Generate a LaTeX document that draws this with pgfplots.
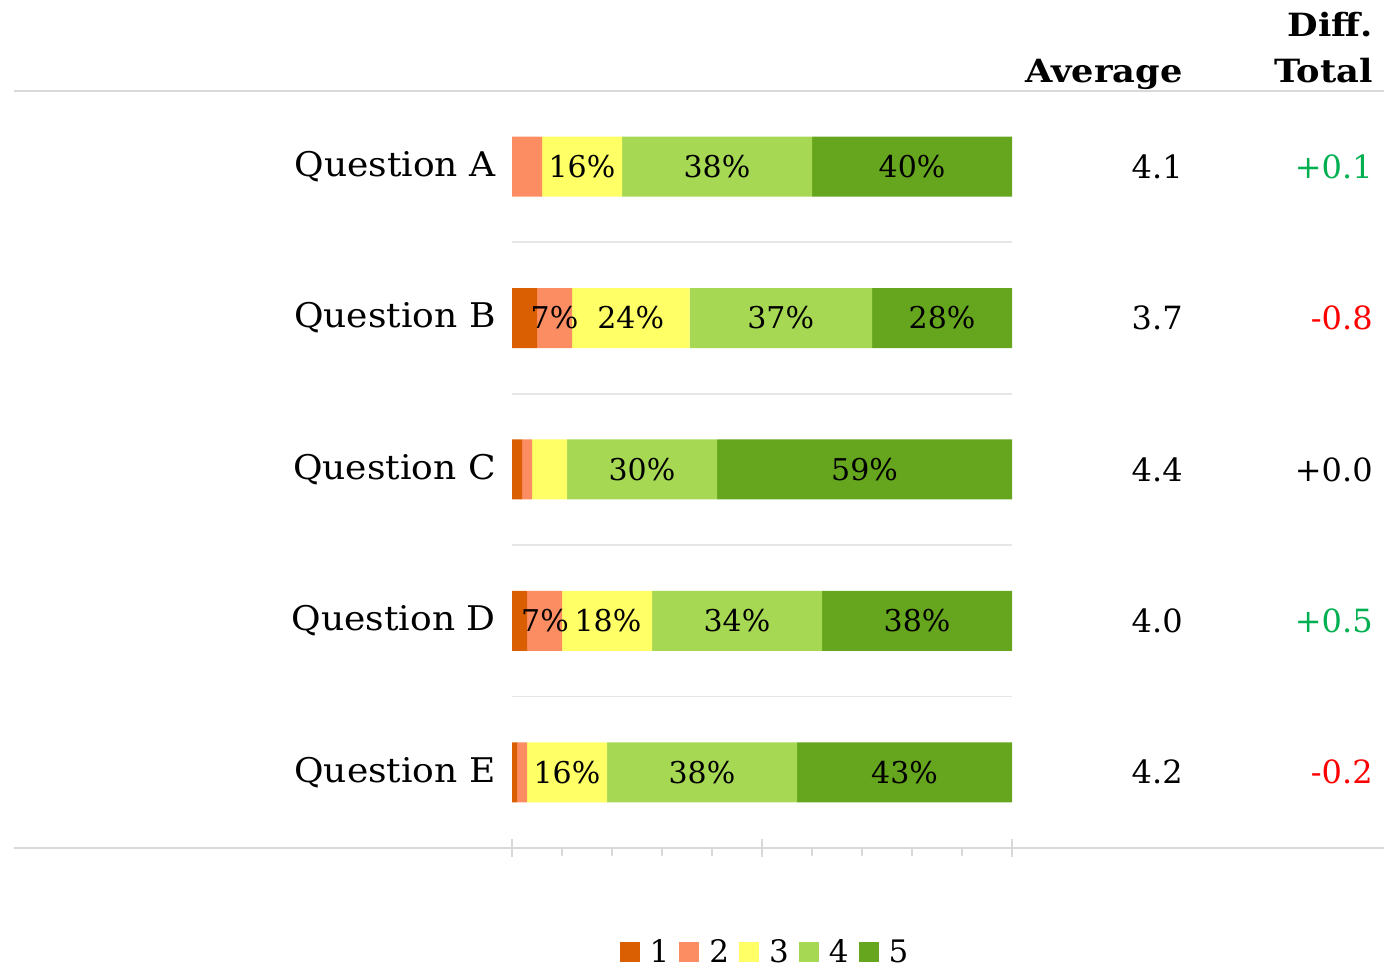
\documentclass[border=0pt]{standalone}
\usepackage{pgfplots}
\pgfplotsset{compat=1.18}
\usepackage{fontspec}
\setmainfont{DejaVu Serif}
\newfontfamily\qfont[FakeStretch=1.06]{DejaVu Serif}
\newfontfamily\hfont[FakeStretch=1.1]{DejaVu Serif}
\definecolor{c1}{HTML}{D95F02}
\definecolor{c2}{HTML}{FC8D62}
\definecolor{c3}{HTML}{FFFF66}
\definecolor{c4}{HTML}{A6D854}
\definecolor{c5}{HTML}{66A61E}
\definecolor{gridgray}{HTML}{D9D9D9}
\definecolor{gridlight}{HTML}{E6E6E6}
\definecolor{dgreen}{HTML}{00B050}
\definecolor{dred}{HTML}{FF0000}
\newcommand{\lbl}{\fontsize{16}{19}\selectfont}
\begin{document}
\begin{tikzpicture}
\begin{axis}[
  scale only axis, width=250pt, height=378.5pt,
  xmin=0, xmax=100, ymin=-0.5, ymax=4.5,
  xbar stacked, bar width=30pt,
  axis line style={draw=none},
  xtick={0,10,...,100}, xticklabels={}, xtick pos=bottom,
  tick align=outside, major tick length=4pt,
  xtick style={draw=gridgray, line width=0.9pt},
  extra x ticks={0,50,100}, extra x tick labels={},
  extra x tick style={tick align=center, major tick length=9pt},
  ytick=\empty,
  clip=false,
  legend columns=-1,
  legend style={at={(axis cs:50.8,-1.19)}, anchor=center, draw=none, fill=none,
    font=\fontsize{15.5}{18}\selectfont,
    /tikz/every odd column/.append style={column sep=3pt},
    /tikz/every even column/.append style={column sep=3pt}},
  legend image code/.code={\fill[#1] (0pt,-5pt) rectangle (10pt,5pt);},
]
\addplot[fill=c1, draw=none] coordinates {(0,4) (5,3) (2,2) (3,1) (1,0)};
\addplot[fill=c2, draw=none] coordinates {(6,4) (7,3) (2,2) (7,1) (2,0)};
\addplot[fill=c3, draw=none] coordinates {(16,4) (23.5,3) (7,2) (18,1) (16,0)};
\addplot[fill=c4, draw=none] coordinates {(38,4) (36.5,3) (30,2) (34,1) (38,0)};
\addplot[fill=c5, draw=none] coordinates {(40,4) (28,3) (59,2) (38,1) (43,0)};
\legend{1,2,3,4,5}
\coordinate (bl) at (axis cs:-102.4,-1.299);
\coordinate (tr) at (axis cs:174.4,5.101);
\end{axis}
\begin{axis}[
  scale only axis, width=250pt, height=378.5pt,
  xmin=0, xmax=100, ymin=-0.5, ymax=4.5,
  hide axis, clip=false,
  point meta=explicit symbolic,
]
% frame lines
\addplot[gridgray, line width=1pt] coordinates {(-99.6,4.5) (174.4,4.5)};
\addplot[gridgray, line width=1pt] coordinates {(-99.6,-0.5) (174.4,-0.5)};
\addplot[gridlight, line width=0.9pt] coordinates {(0,3.5) (100,3.5)};
\addplot[gridlight, line width=0.9pt] coordinates {(0,2.5) (100,2.5)};
\addplot[gridlight, line width=0.9pt] coordinates {(0,1.5) (100,1.5)};
\addplot[gridlight, line width=0.9pt] coordinates {(0,0.5) (100,0.5)};
% percent labels
\addplot[draw=none, mark=none, nodes near coords,
  every node near coord/.append style={anchor=center, inner sep=0pt, font=\fontsize{15}{18}\selectfont}]
  coordinates {(14,4)[16\%] (41,4)[38\%] (80,4)[40\%]
    (8.5,3)[7\%] (23.75,3)[24\%] (53.75,3)[37\%] (86,3)[28\%]
    (26,2)[30\%] (70.5,2)[59\%]
    (6.6,1)[7\%] (19.2,1)[18\%] (45,1)[34\%] (81,1)[38\%]
    (11,0)[16\%] (38,0)[38\%] (78.5,0)[43\%]};
% category labels
\addplot[draw=none, mark=none, nodes near coords,
  every node near coord/.append style={anchor=east, inner sep=0pt, font=\qfont\fontsize{17}{20}\selectfont}]
  coordinates {(-3.2,4)[Question A] (-3.2,3)[Question B] (-3.2,2)[Question C] (-3.2,1)[Question D] (-3.2,0)[Question E]};
% averages
\addplot[draw=none, mark=none, nodes near coords,
  every node near coord/.append style={anchor=east, inner sep=0pt, font=\lbl}]
  coordinates {(134.2,4)[4.1] (134.2,3)[3.7] (134.2,2)[4.4] (134.2,1)[4.0] (134.2,0)[4.2]};
% diffs
\addplot[draw=none, mark=none, nodes near coords,
  every node near coord/.append style={anchor=east, inner sep=0pt, font=\lbl, text=dgreen}]
  coordinates {(172.2,4)[+0.1] (172.2,1)[+0.5]};
\addplot[draw=none, mark=none, nodes near coords,
  every node near coord/.append style={anchor=east, inner sep=0pt, font=\lbl, text=dred}]
  coordinates {(172.2,3)[-0.8] (172.2,0)[-0.2]};
\addplot[draw=none, mark=none, nodes near coords,
  every node near coord/.append style={anchor=east, inner sep=0pt, font=\lbl, text=black}]
  coordinates {(172.2,2)[+0.0]};
% headers
\addplot[draw=none, mark=none, nodes near coords,
  every node near coord/.append style={anchor=base east, inner sep=0pt, font=\hfont\bfseries\fontsize{16}{19}\selectfont}]
  coordinates {(134.2,4.559)[Average] (172.2,4.559)[Total] (172.2,4.857)[Diff.]};
\end{axis}
\pgfresetboundingbox
\path[use as bounding box] (bl) rectangle (tr);
\end{tikzpicture}
\end{document}
